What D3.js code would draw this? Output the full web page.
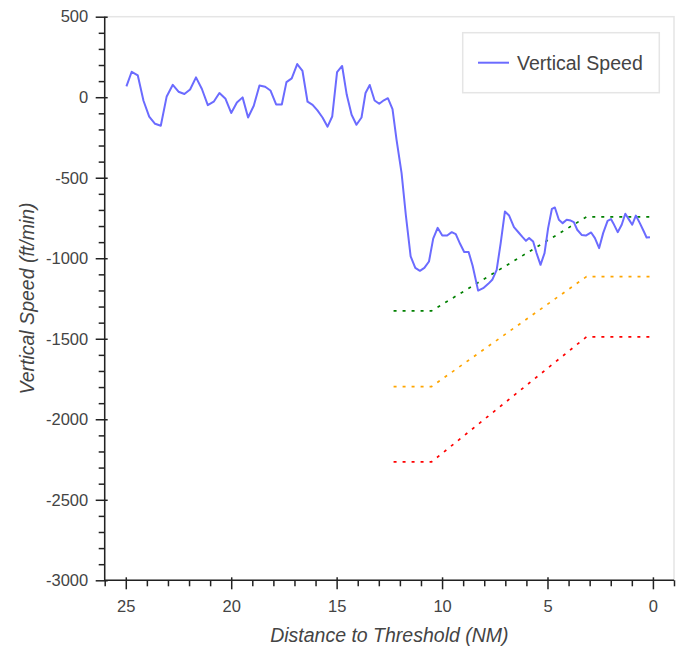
<!DOCTYPE html>
<html>
<head>
<meta charset="utf-8">
<script src="https://cdn.jsdelivr.net/npm/d3@7"></script>
<style>
  body { margin: 0; background: #fff; }
  svg { display: block; font-family: "Liberation Sans", Arial, sans-serif; }
</style>
</head>
<body>
<svg id="chart" width="686" height="648"></svg>
<script>
// flown vertical speed vs distance to threshold
var distanceNm = [24.97, 24.72, 24.43, 24.16, 23.89, 23.61, 23.34, 23.06, 22.77, 22.50,
  22.22, 21.95, 21.67, 21.39, 21.11, 20.83, 20.56, 20.27, 20.00, 19.73,
  19.46, 19.20, 18.93, 18.66, 18.39, 18.14, 17.87, 17.60, 17.38, 17.13,
  16.87, 16.62, 16.38, 16.14, 15.91, 15.67, 15.43, 15.21, 14.98, 14.74,
  14.52, 14.29, 14.06, 13.82, 13.63, 13.43, 13.20, 12.98, 12.76, 12.57,
  12.35, 12.16, 11.92, 11.72, 11.49, 11.27, 11.05, 10.84, 10.62, 10.42,
  10.21, 9.99, 9.76, 9.54, 9.35, 9.14, 8.95, 8.74, 8.55, 8.29,
  8.05, 7.81, 7.62, 7.41, 7.22, 7.02, 6.82, 6.59, 6.37, 6.18,
  6.02, 5.87, 5.68, 5.52, 5.33, 5.14, 4.97, 4.79, 4.65, 4.46,
  4.28, 4.09, 3.90, 3.75, 3.59, 3.38, 3.18, 2.93, 2.75, 2.55,
  2.36, 2.15, 1.99, 1.88, 1.67, 1.48, 1.31, 1.15, 0.98, 0.81,
  0.62, 0.43, 0.30, 0.14];
var verticalSpeed = [67, 158, 135, -22, -120, -165, -177, 5, 77, 34,
  20, 48, 123, 51, -49, -28, 26, -10, -98, -33,
  -1, -126, -53, 73, 65, 42, -45, -45, 94, 117,
  206, 163, -28, -47, -82, -126, -183, -120, 156, 194,
  15, -109, -171, -126, 26, 76, -20, -41, -19, -6,
  -74, -264, -471, -730, -989, -1060, -1078, -1060, -1020, -878,
  -811, -859, -859, -838, -850, -912, -961, -961, -1047, -1201,
  -1186, -1159, -1134, -1072, -906, -710, -735, -807, -840, -869,
  -892, -875, -896, -968, -1041, -968, -813, -693, -685, -761,
  -782, -761, -766, -776, -823, -855, -859, -840, -875, -937,
  -844, -768, -757, -782, -838, -792, -724, -757, -792, -735,
  -782, -834, -871, -869];

// limit lines
var limitNm = [12.3, 10.5, 3.15, 0];
var limitGreen = [-1327, -1327, -743, -743];
var limitOrange = [-1797, -1797, -1114, -1114];
var limitRed = [-2265, -2265, -1488, -1488];

var xMajor = [25, 20, 15, 10, 5, 0];
var yMajor = [500, 0, -500, -1000, -1500, -2000, -2500, -3000];

var frame = {left: 104.7, right: 674, top: 16.7, bottom: 580.3};

var svg = d3.select('#chart');

var x = d3.scaleLinear().domain([26, -1]).range([frame.left, frame.right]);
var y = d3.scaleLinear().domain([-3000, 500]).range([frame.bottom, frame.top]);

var xMinor = d3.range(-1, 27).filter(function(v){ return xMajor.indexOf(v) < 0; });
var yMinor = d3.range(-3000, 501, 100).filter(function(v){ return yMajor.indexOf(v) < 0; });

// plain hyphen minus like the original, not d3's unicode minus
var plainFormat = function(d){ return String(d); };

// outline of the plot frame
svg.append('rect')
  .attr('x', frame.left)
  .attr('y', frame.top)
  .attr('width', frame.right - frame.left)
  .attr('height', frame.bottom - frame.top)
  .attr('fill', 'none')
  .attr('stroke', '#e5e5e5')
  .attr('stroke-width', 1.5);

// limit lines
function limitLine(vals, color) {
  var pts = limitNm.map(function(d, i){ return [d, vals[i]]; });
  svg.append('path')
    .datum(pts)
    .attr('fill', 'none')
    .attr('stroke', color)
    .attr('stroke-width', 1.7)
    .attr('stroke-dasharray', '3,6')
    .attr('d', d3.line()
      .x(function(d){ return x(d[0]); })
      .y(function(d){ return y(d[1]); }));
}
limitLine(limitGreen, 'green');
limitLine(limitOrange, 'orange');
limitLine(limitRed, 'red');

// vertical speed
var vsData = distanceNm.map(function(d, i){ return [d, verticalSpeed[i]]; });
svg.append('path')
  .datum(vsData)
  .attr('fill', 'none')
  .attr('stroke', '#6b6bff')
  .attr('stroke-width', 2)
  .attr('stroke-linejoin', 'round')
  .attr('d', d3.line()
    .x(function(d){ return x(d[0]); })
    .y(function(d){ return y(d[1]); }));

// axes
////////////////////////////////////////////
var axisColor = '#222';

// minor ticks, out only
svg.append('g')
  .attr('transform', 'translate(0,' + frame.bottom + ')')
  .call(d3.axisBottom(x).tickValues(xMinor).tickSize(6).tickSizeOuter(0).tickFormat(''))
  .call(function(g){ g.select('.domain').remove(); });

svg.append('g')
  .attr('transform', 'translate(' + frame.left + ',0)')
  .call(d3.axisLeft(y).tickValues(yMinor).tickSize(6).tickSizeOuter(0).tickFormat(''))
  .call(function(g){ g.select('.domain').remove(); });

// major ticks poke 3px into the frame
var xAxisG = svg.append('g')
  .attr('transform', 'translate(0,' + (frame.bottom - 3) + ')')
  .call(d3.axisBottom(x).tickValues(xMajor).tickSize(12).tickSizeOuter(0).tickPadding(11)
    .tickFormat(plainFormat));
xAxisG.select('.domain').remove();

var yAxisG = svg.append('g')
  .attr('transform', 'translate(' + (frame.left + 3) + ',0)')
  .call(d3.axisLeft(y).tickValues(yMajor).tickSize(12).tickSizeOuter(0).tickPadding(7.5)
    .tickFormat(plainFormat));
yAxisG.select('.domain').remove();

svg.selectAll('.tick line')
  .attr('stroke', axisColor)
  .attr('stroke-width', 1.5);

svg.selectAll('.tick text')
  .attr('fill', '#444')
  .style('font-size', '16.5px')
  .style('font-family', '"Liberation Sans", Arial, sans-serif');

// axis lines
svg.append('path')
  .attr('fill', 'none')
  .attr('stroke', axisColor)
  .attr('stroke-width', 1.5)
  .attr('d', 'M' + frame.left + ',' + frame.top + 'V' + frame.bottom + 'H' + frame.right);

// axis labels
svg.append('text')
  .attr('x', (frame.left + frame.right) / 2)
  .attr('y', 642)
  .attr('text-anchor', 'middle')
  .attr('fill', '#444')
  .style('font-size', '19.5px')
  .style('font-style', 'italic')
  .text('Distance to Threshold (NM)');

svg.append('text')
  .attr('transform', 'translate(33.5,' + (frame.top + frame.bottom) / 2 + ') rotate(-90)')
  .attr('text-anchor', 'middle')
  .attr('fill', '#444')
  .style('font-size', '19.5px')
  .style('font-style', 'italic')
  .text('Vertical Speed (ft/min)');

// legend
var legend = svg.append('g').attr('transform', 'translate(462.7,32.7)');
legend.append('rect')
  .attr('width', 196.6)
  .attr('height', 60)
  .attr('fill', '#fff')
  .attr('stroke', '#e5e5e5')
  .attr('stroke-width', 1.5);
legend.append('line')
  .attr('x1', 15.3).attr('x2', 46.3)
  .attr('y1', 30).attr('y2', 30)
  .attr('stroke', '#6b6bff')
  .attr('stroke-width', 2);
legend.append('text')
  .attr('x', 54.3)
  .attr('y', 37)
  .attr('fill', '#444')
  .style('font-size', '19.5px')
  .text('Vertical Speed');
</script>
</body>
</html>
